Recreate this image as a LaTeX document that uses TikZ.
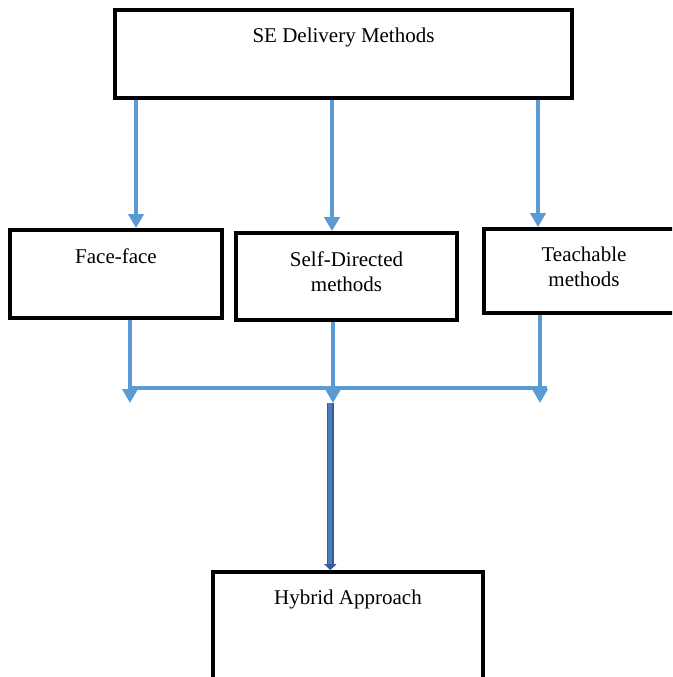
\documentclass[tikz,border=0pt]{standalone}
\usepackage{fontspec}
\setmainfont{Liberation Serif}
\usepackage{tikz}
\usetikzlibrary{arrows.meta}

\definecolor{lblue}{RGB}{91,155,213}
\definecolor{mblue}{RGB}{75,125,190}
\definecolor{dblue}{RGB}{50,95,150}

\tikzset{
  box/.style={draw=black, line width=3.7pt, rectangle, inner sep=0pt},
  txt/.style={anchor=north, yshift=-20pt, inner sep=0pt, align=center,
              font=\fontsize{21}{25}\selectfont},
  flow/.style={draw=lblue, line width=3.8pt, -{Triangle[width=15pt,length=14pt]}},
  bar/.style={draw=lblue, line width=3.8pt},
  joined/.style={draw=mblue, line width=4pt, shorten >=6pt,
                 preaction={draw=dblue, line width=7pt, shorten >=0pt,
                            -{Triangle[width=12pt,length=6pt]}}}
}

\begin{document}
\begin{tikzpicture}[x=1pt, y=-1pt]

    \useasboundingbox (0,0) rectangle (672,677);
    \clip (0,0) rectangle (672,677);

    % Boxes
    \node[box, minimum width=457pt, minimum height=88pt,
          label={[txt]north:SE Delivery Methods}] (se) at (343.5,54) {};

    \node[box, minimum width=212pt, minimum height=88pt,
          label={[txt]north:Face-face}] (ff) at (116,274) {};
    \node[box, minimum width=221pt, minimum height=87pt,
          label={[txt]north:Self-Directed\\methods}] (sd) at (346.5,276.5) {};
    \node[box, minimum width=200pt, minimum height=84pt,
          label={[txt]north:Teachable\\methods}] (tm) at (584,271) {};

    \node[box, minimum width=270pt, minimum height=150pt,
          label={[txt]north:Hybrid Approach}] (hyb) at (348,647) {};

    % Junction points
    \coordinate (jl) at (130,388);
    \coordinate (jr) at (547,388);
    \coordinate (tl) at (130,403);
    \coordinate (tc) at (333,403);
    \coordinate (tr) at (540,403);
    \coordinate (mid) at (330.3,403);

    % Arrows down from the top box
    \draw[flow] ([xshift=20pt]ff.north |- se.south) -- ([xshift=20pt]ff.north);
    \draw[flow] ([xshift=-14.5pt]sd.north |- se.south) -- ([xshift=-14.5pt]sd.north);
    \draw[flow] ([xshift=-46pt]tm.north |- se.south) -- ([xshift=-46pt]tm.north);

    % Arrows to the bar
    \draw[bar] (jl) -- (jr);
    \draw[flow] (tl |- ff.south) -- (tl);
    \draw[flow] (tc |- sd.south) -- (tc);
    \draw[flow] (tr |- tm.south) -- (tr);

    % Into the hybrid box
    \draw[joined] (mid) -- ([xshift=-17.7pt]hyb.north);

\end{tikzpicture}
\end{document}
